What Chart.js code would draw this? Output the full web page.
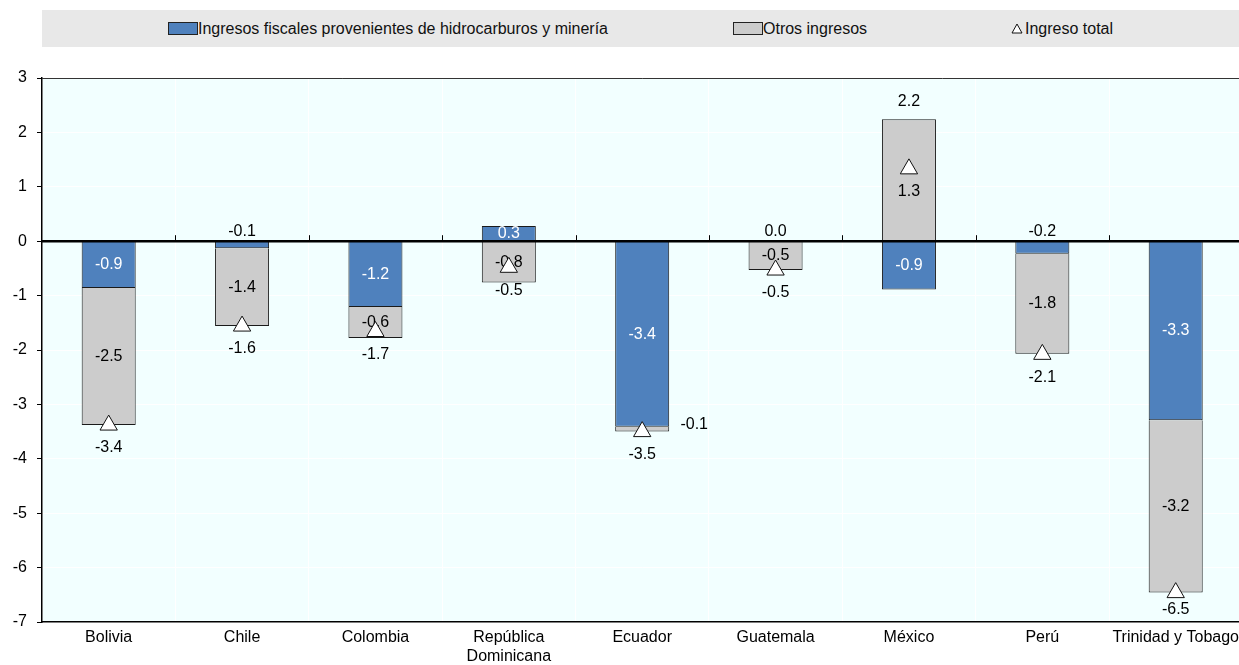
<!DOCTYPE html>
<html lang="es">
<head>
  <meta charset="UTF-8">
  <title>Ingresos fiscales</title>
  <script src="https://cdn.jsdelivr.net/npm/chart.js"></script>
  <style>
    html, body { margin: 0; background: #fff; overflow: hidden; font-family: "Liberation Sans", Arial, sans-serif; }
    #wrap { position: relative; width: 1239px; height: 665px; overflow: hidden; }
    #legend { position: absolute; left: 42px; top: 10px; width: 1197px; height: 37px; background: #e8e8e8; font-size: 16px; color: #111; }
    .item { position: absolute; top: 0; height: 37px; display: flex; align-items: center; }
    .box { width: 30px; height: 13px; border: 1px solid #222; box-sizing: border-box; }
    canvas { position: absolute; left: 0; top: 0; }
  </style>
</head>
<body>
<div id="wrap">
  <canvas id="chart" width="1245" height="665"></canvas>
  <div id="legend">
    <div class="item" style="left:126px"><span class="box" style="background:#4f81bd"></span>Ingresos fiscales provenientes de hidrocarburos y minería</div>
    <div class="item" style="left:691px"><span class="box" style="background:#cccccc"></span>Otros ingresos</div>
    <div class="item" style="left:969px"><svg width="12" height="11" style="margin-right:2px"><polygon points="6,1 11,10 1,10" fill="#fff" stroke="#111" stroke-width="1"/></svg>Ingreso total</div>
  </div>
</div>

<script>
  const fontFamily = '"Liberation Sans", Arial, sans-serif';

  const countries = ['Bolivia', 'Chile', 'Colombia', ['República', 'Dominicana'], 'Ecuador', 'Guatemala', 'México', 'Perú', 'Trinidad y Tobago'];
  const hydro = [-0.86, -0.13, -1.21, 0.28, -3.41, 0.0, -0.89, -0.23, -3.29];
  const others = [-2.52, -1.43, -0.57, -0.76, -0.09, -0.53, 2.24, -1.84, -3.17];
  const total = [-3.38, -1.56, -1.66, -0.48, -3.5, -0.53, 1.33, -2.08, -6.46];

  const fmt = v => v.toFixed(1);

  // plot background, frame, zero line and the bar labels
  const decor = {
    id: 'decor',
    beforeDraw(chart) {
      const { ctx, chartArea: a } = chart;
      ctx.save();
      ctx.fillStyle = '#f2ffff';
      ctx.fillRect(a.left, a.top, a.right - a.left, a.bottom - a.top);
      ctx.restore();
    },
    beforeDatasetDraw(chart, args) {
      if (args.index !== 2) return;
      const { ctx, chartArea: a } = chart;
      const zeroY = chart.scales.y.getPixelForValue(0);
      ctx.save();
      // top frame
      ctx.strokeStyle = '#333';
      ctx.lineWidth = 1;
      ctx.beginPath();
      ctx.moveTo(a.left, a.top + 0.5);
      ctx.lineTo(a.right, a.top + 0.5);
      ctx.stroke();
      // zero line with small ticks between categories
      ctx.strokeStyle = '#000';
      ctx.lineWidth = 2.5;
      ctx.beginPath();
      ctx.moveTo(a.left, zeroY);
      ctx.lineTo(a.right, zeroY);
      ctx.stroke();
      ctx.lineWidth = 1;
      const step = (a.right - a.left) / countries.length;
      for (let i = 1; i < countries.length; i++) {
        const x = Math.round(a.left + step * i) + 0.5;
        ctx.beginPath();
        ctx.moveTo(x, zeroY - 6);
        ctx.lineTo(x, zeroY);
        ctx.stroke();
      }

      ctx.font = '16px ' + fontFamily;
      ctx.textAlign = 'center';
      ctx.textBaseline = 'middle';
      chart.getDatasetMeta(0).data.forEach((bar, i) => {
        const h = Math.abs(bar.base - bar.y);
        if (h >= 14) {
          ctx.fillStyle = '#fff';
          ctx.fillText(fmt(hydro[i]), bar.x, (bar.y + bar.base) / 2);
        } else {
          ctx.fillStyle = '#000';
          ctx.fillText(fmt(hydro[i]), bar.x, zeroY - 10);
        }
      });
      chart.getDatasetMeta(1).data.forEach((bar, i) => {
        const h = Math.abs(bar.base - bar.y);
        const mid = (bar.y + bar.base) / 2;
        ctx.fillStyle = '#000';
        if (others[i] > 0) {
          ctx.fillText(fmt(others[i]), bar.x, Math.min(bar.y, bar.base) - 18);
        } else if (h >= 14) {
          ctx.fillText(fmt(others[i]), bar.x, mid);
        } else {
          ctx.fillText(fmt(others[i]), bar.x + bar.width / 2 + 25, mid - 5);
        }
      });
      ctx.restore();
    },
    afterDatasetsDraw(chart) {
      const { ctx, chartArea: a } = chart;
      ctx.save();
      ctx.font = '16px ' + fontFamily;
      ctx.textAlign = 'center';
      ctx.textBaseline = 'middle';
      ctx.fillStyle = '#000';
      chart.getDatasetMeta(2).data.forEach((pt, i) => {
        const y = Math.min(pt.y + 23, a.bottom - 12);
        ctx.fillText(fmt(total[i]), pt.x, y);
      });
      ctx.restore();
    }
  };

  new Chart(document.getElementById('chart'), {
    data: {
      labels: countries,
      datasets: [
        {
          type: 'bar',
          label: 'Ingresos fiscales provenientes de hidrocarburos y minería',
          data: hydro,
          backgroundColor: '#4f81bd',
          borderColor: '#1a1a1a',
          borderWidth: 1,
          stack: 'a',
          order: 1
        },
        {
          type: 'bar',
          label: 'Otros ingresos',
          data: others,
          backgroundColor: '#cccccc',
          borderColor: '#1a1a1a',
          borderWidth: 1,
          stack: 'a',
          order: 1
        },
        {
          type: 'line',
          label: 'Ingreso total',
          data: total,
          showLine: false,
          pointStyle: 'triangle',
          pointRadius: 10,
          pointBackgroundColor: '#fff',
          pointBorderColor: '#111',
          pointBorderWidth: 1,
          stack: 'b',
          order: 0
        }
      ]
    },
    options: {
      responsive: false,
      animation: false,
      barPercentage: 0.405,
      categoryPercentage: 1,
      layout: { autoPadding: false, padding: { top: 78, left: 0, right: 0, bottom: 0 } },
      plugins: {
        legend: { display: false },
        tooltip: { enabled: false }
      },
      scales: {
        x: {
          stacked: true,
          grid: { color: '#fff', lineWidth: 1, offset: true, drawTicks: false },
          border: { color: '#000', width: 1.5 },
          ticks: { color: '#000', font: { family: fontFamily, size: 16 }, padding: 6, maxRotation: 0, autoSkip: false },
          afterFit: s => { s.height = 43; }
        },
        y: {
          stacked: true,
          min: -7,
          max: 3,
          grid: { color: '#fff', lineWidth: 1, tickColor: '#000', tickLength: 5 },
          border: { color: '#000', width: 1.5 },
          ticks: { stepSize: 1, color: '#000', font: { family: fontFamily, size: 16 }, padding: 10 },
          afterFit: s => { s.width = 42; }
        }
      }
    },
    plugins: [decor]
  });
</script>
</body>
</html>
